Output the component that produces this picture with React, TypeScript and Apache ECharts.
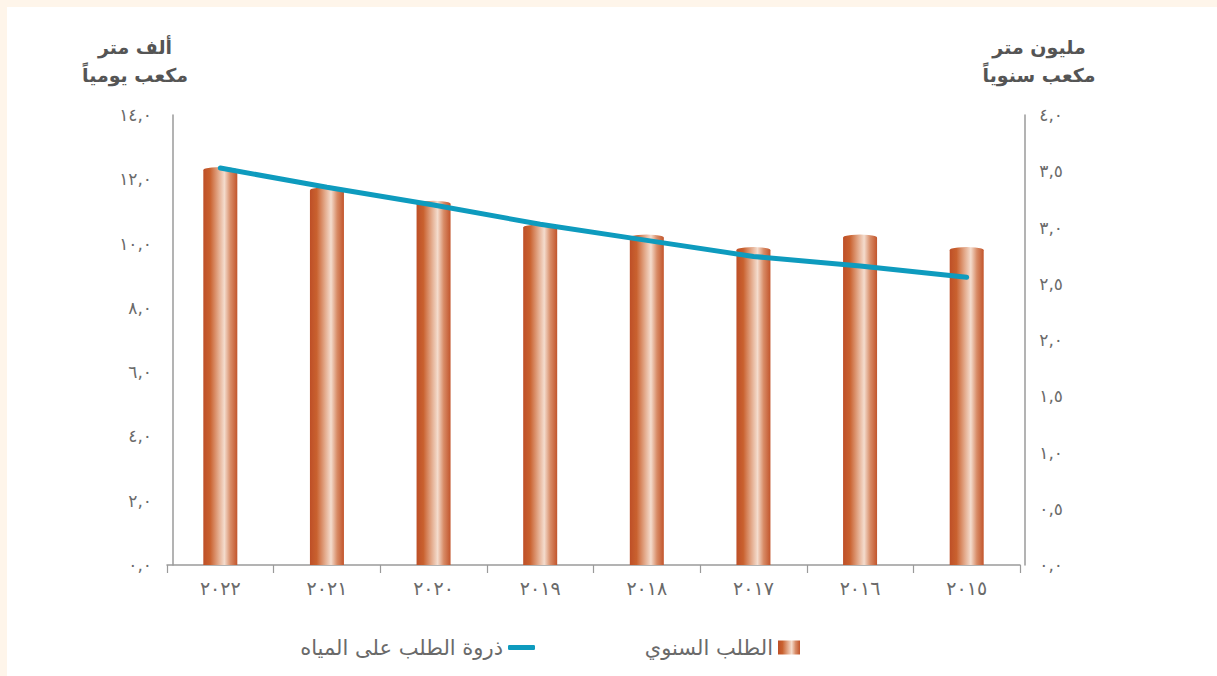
import React, { useEffect, useRef } from "react";
import * as echarts from "echarts";

const years = ["٢٠٢٢", "٢٠٢١", "٢٠٢٠", "٢٠١٩", "٢٠١٨", "٢٠١٧", "٢٠١٦", "٢٠١٥"];
const annualDemand = [3.51, 3.33, 3.21, 3.0, 2.91, 2.8, 2.91, 2.8]; // million m3 / year (right axis)
const peakDemand = [12.35, 11.75, 11.2, 10.6, 10.1, 9.6, 9.3, 8.95]; // thousand m3 / day (left axis)
const annualName = "الطلب السنوي";
const peakName = "ذروة الطلب على المياه";
const leftTitle = "ألف متر\nمكعب يومياً";
const rightTitle = "مليون متر\nمكعب سنوياً";

const arabicDigits = ["٠", "١", "٢", "٣", "٤", "٥", "٦", "٧", "٨", "٩"];
const toArabic = (v: number) =>
  v
    .toFixed(1)
    .replace(/[0-9]/g, (d) => arabicDigits[Number(d)])
    .replace(".", ",");

const FONT = "'DejaVu Sans', sans-serif";
const TXT = "#6a6a6a";
const AXIS = "#9a9a9a";

const barGradient = () =>
  new echarts.graphic.LinearGradient(0, 0, 1, 0, [
    { offset: 0, color: "#BE4F27" },
    { offset: 0.2, color: "#C9612F" },
    { offset: 0.45, color: "#E4AC8E" },
    { offset: 0.62, color: "#F4DCCD" },
    { offset: 0.8, color: "#D88B66" },
    { offset: 1, color: "#C2552C" },
  ]);

export default function App() {
  const ref = useRef<HTMLDivElement>(null);
  useEffect(() => {
    if (!ref.current) return;
    const chart = echarts.init(ref.current, undefined, { renderer: "svg" });
    chart.setOption({
      animation: false,
      backgroundColor: "#ffffff",
      textStyle: { fontFamily: FONT },
      grid: { left: 160, right: 197, top: 108, bottom: 111 },
      legend: [
        {
          data: [{ name: peakName, icon: "roundRect", itemStyle: { color: "#0E9BBE" } }],
          right: 677,
          top: 625,
          itemWidth: 27,
          itemHeight: 5,
          align: "right",
          itemGap: 8,
          textStyle: { color: TXT, fontSize: 21, fontFamily: FONT },
        },
        {
          data: [{ name: annualName, icon: "rect" }],
          right: 412,
          top: 625,
          itemWidth: 22,
          itemHeight: 14,
          align: "right",
          itemGap: 8,
          textStyle: { color: TXT, fontSize: 21, fontFamily: FONT },
        },
      ],
      xAxis: {
        type: "category",
        data: years,
        axisLine: { lineStyle: { color: AXIS, width: 1.5 } },
        axisTick: { show: true, length: 8, lineStyle: { color: AXIS, width: 1.2 } },
        axisLabel: { color: TXT, fontSize: 19, margin: 13, fontFamily: FONT },
      },
      yAxis: [
        {
          type: "value",
          min: 0,
          max: 14,
          interval: 2,
          position: "left",
          offset: -6,
          axisLine: { show: true, lineStyle: { color: AXIS, width: 1.5 } },
          axisTick: { show: false },
          splitLine: { show: false },
          axisLabel: { color: TXT, fontSize: 17, margin: 21, formatter: (v: number) => toArabic(v), fontFamily: FONT },
        },
        {
          type: "value",
          min: 0,
          max: 4,
          interval: 0.5,
          position: "right",
          offset: 5,
          axisLine: { show: true, lineStyle: { color: AXIS, width: 1.5 } },
          axisTick: { show: false },
          splitLine: { show: false },
          axisLabel: {
            color: TXT,
            fontSize: 17,
            margin: 38,
            align: "right",
            formatter: (v: number) => toArabic(v),
            fontFamily: FONT,
          },
        },
      ],
      series: [
        {
          name: annualName,
          type: "bar",
          yAxisIndex: 1,
          data: annualDemand,
          barWidth: 34,
          itemStyle: { color: barGradient() },
          z: 2,
        },
        {
          name: annualName + "_cap",
          type: "pictorialBar",
          yAxisIndex: 1,
          data: annualDemand,
          symbol: "circle",
          symbolSize: [34, 6],
          symbolPosition: "end",
          symbolOffset: [0, "-50%"],
          itemStyle: { color: barGradient() },
          z: 3,
          silent: true,
        },
        {
          name: peakName,
          type: "line",
          yAxisIndex: 0,
          data: peakDemand,
          showSymbol: false,
          symbol: "none",
          lineStyle: { color: "#0E9BBE", width: 5, cap: "round" },
          itemStyle: { color: "#0E9BBE" },
          z: 5,
        },
      ],
      graphic: [
        {
          type: "text",
          x: 128,
          y: 26,
          style: {
            text: leftTitle,
            fill: "#555555",
            font: `bold 19px ${FONT}`,
            textAlign: "center",
            lineHeight: 28,
          },
        },
        {
          type: "text",
          x: 1032,
          y: 26,
          style: {
            text: rightTitle,
            fill: "#555555",
            font: `bold 19px ${FONT}`,
            textAlign: "center",
            lineHeight: 28,
          },
        },
      ],
    });
    return () => chart.dispose();
  }, []);
  return (
    <div style={{ position: "fixed", left: 0, top: 0, width: 1217, height: 676, background: "#FEF5EA" }}>
      <div ref={ref} style={{ position: "absolute", left: 7, top: 7, width: 1210, height: 669 }} />
    </div>
  );
}
